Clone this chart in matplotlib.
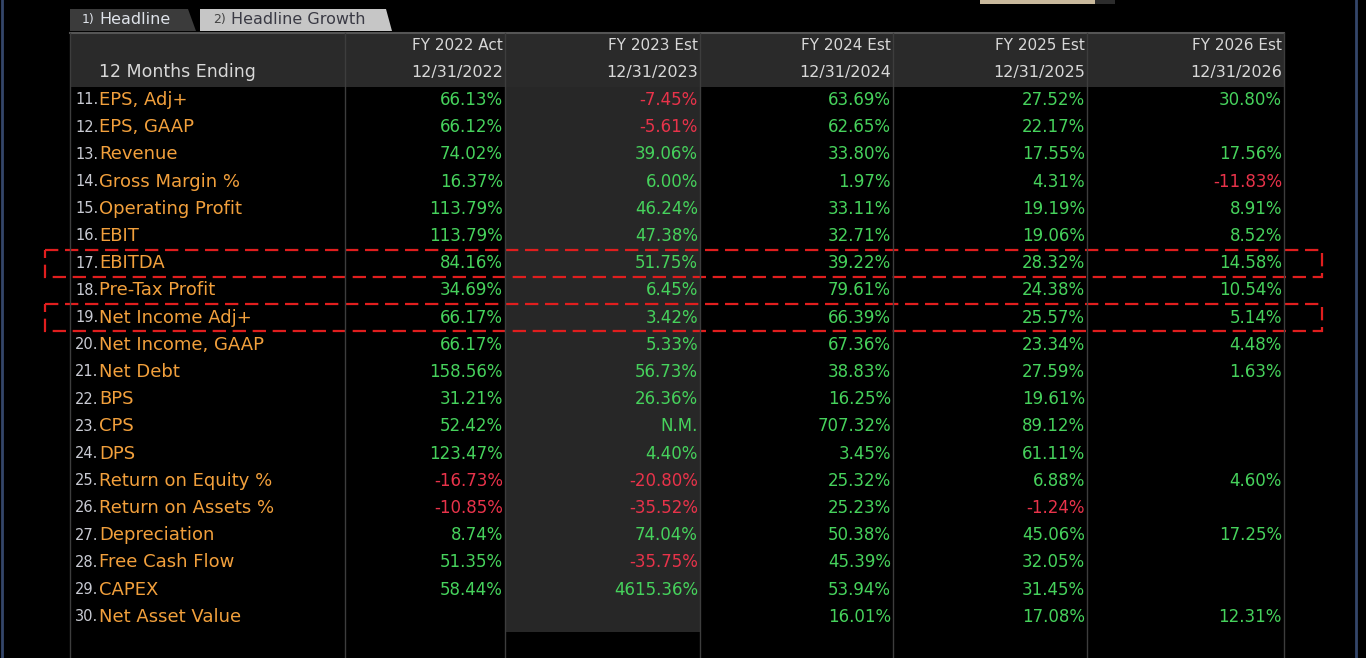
import numpy as np
import matplotlib.pyplot as plt
from matplotlib.patches import Rectangle, Polygon

# Datos de la tabla
row_nums = list(range(11, 31))
row_labels = ["EPS, Adj+", "EPS, GAAP", "Revenue", "Gross Margin %", "Operating Profit",
              "EBIT", "EBITDA", "Pre-Tax Profit", "Net Income Adj+", "Net Income, GAAP",
              "Net Debt", "BPS", "CPS", "DPS", "Return on Equity %", "Return on Assets %",
              "Depreciation", "Free Cash Flow", "CAPEX", "Net Asset Value"]

col_titles = ["FY 2022 Act", "FY 2023 Est", "FY 2024 Est", "FY 2025 Est", "FY 2026 Est"]
col_dates = ["12/31/2022", "12/31/2023", "12/31/2024", "12/31/2025", "12/31/2026"]

fy2022 = [66.13, 66.12, 74.02, 16.37, 113.79, 113.79, 84.16, 34.69, 66.17, 66.17,
          158.56, 31.21, 52.42, 123.47, -16.73, -10.85, 8.74, 51.35, 58.44, None]
fy2023 = [-7.45, -5.61, 39.06, 6.00, 46.24, 47.38, 51.75, 6.45, 3.42, 5.33,
          56.73, 26.36, "N.M.", 4.40, -20.80, -35.52, 74.04, -35.75, 4615.36, None]
fy2024 = [63.69, 62.65, 33.80, 1.97, 33.11, 32.71, 39.22, 79.61, 66.39, 67.36,
          38.83, 16.25, 707.32, 3.45, 25.32, 25.23, 50.38, 45.39, 53.94, 16.01]
fy2025 = [27.52, 22.17, 17.55, 4.31, 19.19, 19.06, 28.32, 24.38, 25.57, 23.34,
          27.59, 19.61, 89.12, 61.11, 6.88, -1.24, 45.06, 32.05, 31.45, 17.08]
fy2026 = [30.80, None, 17.56, -11.83, 8.91, 8.52, 14.58, 10.54, 5.14, 4.48,
          1.63, None, None, None, 4.60, None, 17.25, None, None, 12.31]
columns = [fy2022, fy2023, fy2024, fy2025, fy2026]

highlight = ["EBITDA", "Net Income Adj+"]

# Colores
verde = "#46d25c"
rojo = "#e8334a"
naranja = "#f2a03c"
gris_txt = "#c9cbd3"
gris_linea = "#3d3d3d"

# Geometria (pixeles)
W, H = 1366, 658
col_edges = [70, 345, 505, 700, 893, 1087, 1284]   # etiqueta, 2022, 2023, 2024, 2025, 2026
y0, dy = 100, 27.2
header_top, header_bot = 33, 87

fig = plt.figure(figsize=(W / 100, H / 100), dpi=100, facecolor="black")
ax = fig.add_axes([0, 0, 1, 1])
ax.set_facecolor("black")
ax.set_xlim(0, W)
ax.set_ylim(H, 0)
ax.axis("off")

# bordes azules de la ventana
ax.plot([2, 2], [0, H], color="#34466a", lw=2)
ax.plot([1356, 1356], [0, H], color="#34466a", lw=2)

# barrita superior
ax.add_patch(Rectangle((980, 0), 115, 3.5, color="#c9b99c", lw=0))
ax.add_patch(Rectangle((1095, 0), 20, 3.5, color="#2c2c2c", lw=0))

# pestanas
ax.add_patch(Polygon([[70, 31], [70, 9], [188, 9], [196, 31]], closed=True, color="#3b3b3b", lw=0))
ax.add_patch(Polygon([[200, 31], [200, 9], [386, 9], [392, 31]], closed=True, color="#c6c6c6", lw=0))
ax.text(82, 20, "1)", color="#dfe3ea", fontsize=9, va="center", ha="left")
ax.text(99, 20, "Headline", color="#dfe3ea", fontsize=11.5, va="center", ha="left")
ax.text(213, 20, "2)", color="#444444", fontsize=9, va="center", ha="left")
ax.text(231, 20, "Headline Growth", color="#3a3a44", fontsize=11.5, va="center", ha="left")

# cabecera
ax.add_patch(Rectangle((col_edges[0], header_top), col_edges[-1] - col_edges[0],
                       header_bot - header_top, color="#2a2a2a", lw=0))
ax.plot([col_edges[0], col_edges[-1]], [header_top, header_top], color="#555555", lw=1.5)

# columna 2023 sombreada
ax.add_patch(Rectangle((col_edges[2], header_bot), col_edges[3] - col_edges[2],
                       632 - header_bot, color="#272727", lw=0))

# lineas verticales
for x in col_edges:
    ax.plot([x, x], [header_top, H], color=gris_linea, lw=1)

ax.text(99, 72, "12 Months Ending", color="#d8d8d8", fontsize=12.5, va="center", ha="left")
for j in range(len(col_titles)):
    xr = col_edges[j + 2] - 2
    ax.text(xr, 45, col_titles[j], color="#d8d8d8", fontsize=11, va="center", ha="right")
    ax.text(xr, 72, col_dates[j], color="#d8d8d8", fontsize=11.5, va="center", ha="right")

# filas
for i in range(len(row_labels)):
    y = y0 + dy * i
    ax.text(75, y, f"{row_nums[i]}.", color=gris_txt, fontsize=10.5, va="center", ha="left")
    ax.text(99, y, row_labels[i], color=naranja, fontsize=13, va="center", ha="left")
    for j, col in enumerate(columns):
        v = col[i]
        if v is None:
            continue
        if isinstance(v, str):
            txt, c = v, verde
        else:
            txt = f"{v:.2f}%"
            c = rojo if v < 0 else verde
        ax.text(col_edges[j + 2] - 2, y, txt, color=c, fontsize=12, va="center", ha="right")

    # recuadros rojos punteados
    if row_labels[i] in highlight:
        ax.add_patch(Rectangle((45, y - 13.5), 1322 - 45, 27, fill=False,
                               edgecolor="#e01e1e", lw=1.6, ls=(0, (6, 3))))

fig.savefig("out.png", dpi=100, facecolor="black")
